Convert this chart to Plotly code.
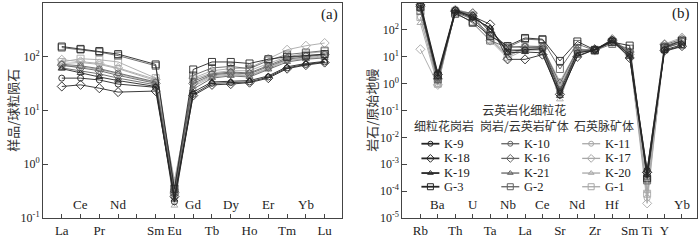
import plotly.graph_objects as go

# ---------------- data ----------------
ree_elements = ["La", "Ce", "Pr", "Nd", "Pm", "Sm", "Eu", "Gd", "Tb", "Dy", "Ho", "Er", "Tm", "Yb", "Lu"]
ree_label_row = ["b", "t", "b", "t", "", "b", "b", "t", "b", "t", "b", "t", "b", "t", "b"]

spider_elements = ["Rb", "Ba", "Th", "U", "Ta", "Nb", "La", "Ce", "Sr", "Nd", "Zr", "Hf", "Sm", "Ti", "Y", "Yb"]
spider_label_row = ["b", "t", "b", "t", "b", "t", "b", "t", "b", "t", "b", "t", "b", "b", "b", "t"]

group_names = ["细粒花岗岩", "云英岩化细粒花<br>岗岩/云英岩矿体", "石英脉矿体"]
group1_samples = ["K-9", "K-18", "K-19", "G-3"]
group2_samples = ["K-10", "K-16", "K-21", "G-2"]
group3_samples = ["K-11", "K-17", "K-20", "G-1"]

# chondrite-normalised REE (None = Pm, not analysed)
ree_K9 = [40, 40, 37, 31, None, 27, 0.20, 20, 32, 33, 34, 42, 62, 72, 80]
ree_K18 = [28, 30, 26, 22, None, 23, 0.25, 19, 30, 31, 33, 40, 60, 70, 78]
ree_K19 = [60, 50, 42, 36, None, 28, 0.22, 22, 34, 35, 36, 44, 65, 75, 82]
ree_G3 = [155, 140, 128, 112, None, 72, 0.35, 58, 80, 80, 75, 90, 100, 105, 112]
ree_K10 = [72, 68, 60, 50, None, 34, 0.35, 35, 48, 52, 50, 70, 95, 105, 110]
ree_K16 = [70, 62, 55, 45, None, 32, 0.30, 32, 46, 50, 48, 65, 90, 100, 110]
ree_K21 = [62, 55, 48, 40, None, 30, 0.25, 25, 40, 44, 42, 58, 80, 90, 95]
ree_G2 = [148, 136, 122, 105, None, 68, 0.30, 45, 62, 66, 60, 85, 110, 120, 130]
ree_K11 = [75, 78, 72, 60, None, 36, 0.50, 30, 44, 48, 45, 62, 88, 95, 105]
ree_K17 = [88, 82, 75, 62, None, 38, 0.28, 40, 55, 60, 62, 92, 135, 160, 180]
ree_K20 = [68, 65, 58, 48, None, 33, 0.17, 28, 42, 46, 44, 60, 85, 92, 100]
ree_G1 = [80, 92, 88, 80, None, 40, 0.45, 38, 50, 55, 55, 75, 100, 115, 125]

# primitive-mantle-normalised trace elements
pm_K9 = [1000, 2.5, 550, 300, 110, 16, 18, 20, 0.5, 14, 18, 42, 12, 6e-4, 18, 28]
pm_K18 = [850, 2.2, 500, 320, 160, 8, 8, 12, 0.4, 10, 19, 40, 9, 5e-4, 17, 25]
pm_K19 = [800, 1.8, 480, 280, 120, 14, 15, 14, 0.35, 11, 18, 38, 10, 4e-4, 16, 24]
pm_G3 = [700, 2.0, 400, 200, 60, 25, 50, 45, 7.0, 37, 18, 35, 26, 3e-4, 22, 40]
pm_K10 = [600, 1.6, 550, 350, 90, 22, 25, 24, 0.6, 16, 18, 42, 14, 6e-4, 25, 40]
pm_K16 = [750, 1.5, 500, 420, 80, 24, 22, 22, 1.0, 18, 18, 45, 15, 5e-4, 28, 45]
pm_K21 = [650, 1.2, 450, 250, 70, 18, 18, 18, 0.4, 14, 17, 38, 12, 3e-4, 22, 32]
pm_G2 = [500, 1.5, 450, 180, 40, 22, 45, 42, 3.5, 30, 17, 30, 20, 2.5e-4, 20, 35]
pm_K11 = [300, 1.0, 600, 380, 50, 12, 20, 22, 1.2, 18, 18, 40, 14, 5.5e-5, 24, 38]
pm_K17 = [19, 0.9, 550, 400, 40, 9, 18, 20, 0.7, 16, 17, 36, 12, 3.5e-5, 30, 52]
pm_K20 = [180, 0.85, 500, 300, 45, 11, 20, 20, 0.26, 15, 17, 38, 13, 1e-4, 22, 35]
pm_G1 = [300, 1.0, 500, 350, 45, 10, 22, 25, 0.8, 20, 17, 35, 12, 8e-5, 25, 40]

ree_ticks = [0.1, 1, 10, 100, 1000]
ree_ticktext = ["10<sup>-1</sup>", "10<sup>0</sup>", "10<sup>1</sup>", "10<sup>2</sup>", "10<sup>3</sup>"]
pm_ticks = [1e-5, 1e-4, 1e-3, 1e-2, 1e-1, 1, 10, 100, 1000]
pm_ticktext = ["10<sup>-5</sup>", "10<sup>-4</sup>", "10<sup>-3</sup>", "10<sup>-2</sup>", "10<sup>-1</sup>",
               "10<sup>0</sup>", "10<sup>1</sup>", "10<sup>2</sup>", "10<sup>3</sup>"]

# ---------------- styling ----------------
SERIF = "Liberation Serif, Times New Roman, serif"
CJK = "Noto Sans CJK SC"
group_colors = ["#262626", "#636363", "#a8a8a8"]
symbols = ["circle-open", "diamond-open", "triangle-up-open", "square-open"]
sym_sizes = [6, 7, 6, 7]

ree_sets = [[ree_K9, ree_K18, ree_K19, ree_G3],
            [ree_K10, ree_K16, ree_K21, ree_G2],
            [ree_K11, ree_K17, ree_K20, ree_G1]]
pm_sets = [[pm_K9, pm_K18, pm_K19, pm_G3],
           [pm_K10, pm_K16, pm_K21, pm_G2],
           [pm_K11, pm_K17, pm_K20, pm_G1]]
sample_sets = [group1_samples, group2_samples, group3_samples]

fig = go.Figure()

ree_x = list(range(len(ree_elements)))
pm_x = list(range(len(spider_elements)))

# draw light groups first so black lies on top
for g in [2, 1, 0]:
    for i in range(4):
        fig.add_trace(go.Scatter(
            x=ree_x, y=ree_sets[g][i], mode="lines+markers", connectgaps=True,
            line=dict(color=group_colors[g], width=0.9),
            marker=dict(symbol=symbols[i], size=sym_sizes[i], color=group_colors[g], line=dict(width=0.9)),
            name=sample_sets[g][i], showlegend=False, xaxis="x", yaxis="y"))
        fig.add_trace(go.Scatter(
            x=pm_x, y=pm_sets[g][i], mode="lines+markers",
            line=dict(color=group_colors[g], width=0.9),
            marker=dict(symbol=symbols[i], size=sym_sizes[i], color=group_colors[g], line=dict(width=0.9)),
            name=sample_sets[g][i], showlegend=False, xaxis="x2", yaxis="y2"))

# ---------------- manual legend (layout positions in pixel-like overlay axis) ----------------
leg_line_x0 = [422, 502, 583]
leg_line_len = 18
leg_rows_y = [147, 162, 177, 191]
leg_header_x = [445, 525, 605]
leg_header_y = 132

annotations = []
for g in range(3):
    x0 = leg_line_x0[g]
    for i in range(4):
        yy = leg_rows_y[i]
        fig.add_trace(go.Scatter(
            x=[x0, x0 + leg_line_len], y=[yy, yy], mode="lines",
            line=dict(color=group_colors[g], width=1.8 if g == 0 else 1.3),
            showlegend=False, hoverinfo="skip", xaxis="x3", yaxis="y3"))
        fig.add_trace(go.Scatter(
            x=[x0 + leg_line_len / 2], y=[yy], mode="markers",
            marker=dict(symbol=symbols[i], size=sym_sizes[i] - 1, color=group_colors[g], line=dict(width=1)),
            showlegend=False, hoverinfo="skip", xaxis="x3", yaxis="y3"))
        annotations.append(dict(
            x=x0 + leg_line_len + 3, y=yy, xref="x3", yref="y3", text=sample_sets[g][i],
            showarrow=False, xanchor="left", yanchor="middle",
            font=dict(family=SERIF, size=12.5, color="#222")))
    annotations.append(dict(
        x=leg_header_x[g], y=leg_header_y + 7, xref="x3", yref="y3", text=group_names[g],
        showarrow=False, xanchor="center", yanchor="bottom", align="center",
        font=dict(family=CJK, size=12, color="#333")))

# element labels: bottom row as tick labels, top row as annotations
ree_ticktext_bottom = [e if r == "b" else "" for e, r in zip(ree_elements, ree_label_row)]
pm_ticktext_bottom = [e if r == "b" else "" for e, r in zip(spider_elements, spider_label_row)]
for xi, (e, r) in enumerate(zip(ree_elements, ree_label_row)):
    if r == "t":
        annotations.append(dict(x=xi, y=0.02, xref="x", yref="y domain", text=e, showarrow=False,
                                yanchor="bottom", xanchor="center",
                                font=dict(family=SERIF, size=13, color="#222")))
for xi, (e, r) in enumerate(zip(spider_elements, spider_label_row)):
    if r == "t":
        annotations.append(dict(x=xi, y=0.02, xref="x2", yref="y2 domain", text=e, showarrow=False,
                                yanchor="bottom", xanchor="center",
                                font=dict(family=SERIF, size=13, color="#222")))

# axis titles & panel letters
annotations += [
    dict(x=-0.047, y=0.5, xref="paper", yref="paper", text="样品/球粒陨石", textangle=-90,
         showarrow=False, xanchor="center", yanchor="middle", font=dict(family=CJK, size=13, color="#333")),
    dict(x=0.502, y=0.5, xref="paper", yref="paper", text="岩石/原始地幔", textangle=-90,
         showarrow=False, xanchor="center", yanchor="middle", font=dict(family=CJK, size=13, color="#333")),
    dict(x=0.4534, y=0.945, xref="paper", yref="paper", text="(a)", showarrow=False,
         xanchor="right", yanchor="middle", font=dict(family=SERIF, size=15, color="#222")),
    dict(x=0.9924, y=0.95, xref="paper", yref="paper", text="(b)", showarrow=False,
         xanchor="right", yanchor="middle", font=dict(family=SERIF, size=15, color="#222")),
]

axis_common = dict(showline=True, mirror=True, linecolor="#444", linewidth=1, ticks="inside",
                   ticklen=4, tickcolor="#444", showgrid=False, zeroline=False,
                   tickfont=dict(family=SERIF, size=13, color="#222"))

fig.update_layout(
    width=700, height=240,
    margin=dict(l=43, r=2, t=3, b=17),
    paper_bgcolor="white", plot_bgcolor="rgba(0,0,0,0)",
    showlegend=False,
    xaxis=dict(domain=[0, 0.4565], range=[-1.0, 14.9], tickmode="array", tickvals=ree_x,
               ticktext=ree_ticktext_bottom, anchor="y", **axis_common),
    yaxis=dict(domain=[0, 1], type="log", range=[-1, 3], tickmode="array", tickvals=ree_ticks,
               ticktext=ree_ticktext, anchor="x",
               **{**axis_common, "tickfont": dict(family=SERIF, size=12, color="#222"), "ticklen": 5}),
    xaxis2=dict(domain=[0.5496, 1], range=[-1.03, 15.86], tickmode="array", tickvals=pm_x,
                ticktext=pm_ticktext_bottom, anchor="y2", **axis_common),
    yaxis2=dict(domain=[0, 1], type="log", range=[-5, 3], tickmode="array", tickvals=pm_ticks,
                ticktext=pm_ticktext, anchor="x2",
                **{**axis_common, "tickfont": dict(family=SERIF, size=12, color="#222"), "ticklen": 5}),
    xaxis3=dict(domain=[0, 1], range=[43, 698], visible=False, anchor="y3", fixedrange=True),
    yaxis3=dict(domain=[0, 1], range=[223, 3], visible=False, anchor="x3", fixedrange=True),
    annotations=annotations,
)

fig.write_html("out.html", config={"displayModeBar": False},
               post_script="document.body.style.margin='0';document.body.style.overflow='hidden';")
